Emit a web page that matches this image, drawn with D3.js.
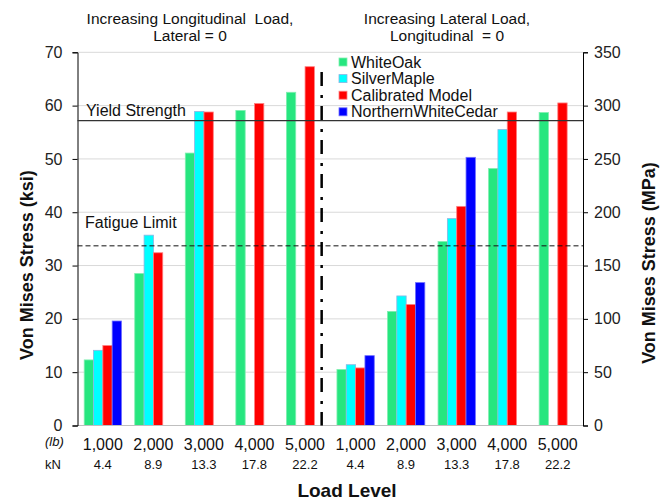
<!DOCTYPE html>
<html lang="en">
<head>
<meta charset="UTF-8">
<title>Von Mises Stress by Load Level</title>
<script src="https://d3js.org/d3.v7.min.js"></script>
<style>
    body { margin: 0; background: #fff; }
    svg { font-family: "Liberation Sans", Arial, sans-serif; }
</style>
</head>
<body>
<svg id="chart" width="661" height="503"></svg>
<script>
    // Data
    const lbLabels = ["1,000", "2,000", "3,000", "4,000", "5,000", "1,000", "2,000", "3,000", "4,000", "5,000"];
    const kNLabels = ["4.4", "8.9", "13.3", "17.8", "22.2", "4.4", "8.9", "13.3", "17.8", "22.2"];
    const seriesNames = ["WhiteOak", "SilverMaple", "Calibrated Model", "NorthernWhiteCedar"];
    const whiteOak = [12.3, 28.5, 51.1, 59.1, 62.5, 10.5, 21.4, 34.5, 48.2, 58.7];
    const silverMaple = [14.1, 35.7, 58.9, null, null, 11.4, 24.3, 38.8, 55.5, null];
    const calibrated = [15.0, 32.4, 58.8, 60.4, 67.3, 10.8, 22.7, 41.1, 58.8, 60.5];
    const cedar = [19.6, null, null, null, null, 13.1, 26.8, 50.3, null, null];
    const ksiTicks = [0, 10, 20, 30, 40, 50, 60, 70];
    const mpaTicks = [0, 50, 100, 150, 200, 250, 300, 350];
    const yieldStrength = 57.2;
    const fatigueLimit = 33.7;

    const colors = ["#26E67F", "#00FFFF", "#FF0000", "#0000FF"];
    const strokes = ["#7FEFB0", "#8DB3E2", "#FF8080", "#6F6FFF"];

    const svg = d3.select("#chart");
    const plotLeft = 77.5, plotRight = 583, plotTop = 52.3, plotBottom = 425.5;
    const cats = d3.range(lbLabels.length);

    const x0 = d3.scaleBand().domain(cats).range([plotLeft, plotRight]);
    const x1 = d3.scaleBand().domain(d3.range(seriesNames.length)).range([6.7, 6.7 + 4 * 9.33]);
    const y = d3.scaleLinear().domain([0, 70]).range([plotBottom, plotTop]);
    const y2 = d3.scaleLinear().domain([0, 350]).range([plotBottom, plotTop]);

    // grid
    svg.append("g").selectAll("line").data(ksiTicks.slice(1)).join("line")
        .attr("x1", plotLeft).attr("x2", plotRight)
        .attr("y1", d => y(d)).attr("y2", d => y(d))
        .attr("stroke", "#D9D9D9").attr("stroke-width", 1);

    // bars
    const allSeries = [whiteOak, silverMaple, calibrated, cedar];
    const rows = [];
    cats.forEach(c => allSeries.forEach((s, i) => {
        if (s[c] != null) rows.push({ c: c, i: i, v: s[c] });
    }));
    svg.append("g").selectAll("rect").data(rows).join("rect")
        .attr("x", d => x0(d.c) + x1(d.i))
        .attr("width", x1.bandwidth())
        .attr("y", d => y(d.v))
        .attr("height", d => y(0) - y(d.v))
        .attr("fill", d => colors[d.i])
        .attr("stroke", d => strokes[d.i])
        .attr("stroke-width", 0.8);

    // bottom axis line
    svg.append("line").attr("x1", plotLeft).attr("x2", plotRight)
        .attr("y1", plotBottom).attr("y2", plotBottom)
        .attr("stroke", "#BFBFBF").attr("stroke-width", 1);

    // left axis
    const yAxis = svg.append("g").attr("transform", `translate(${plotLeft},0)`)
        .call(d3.axisLeft(y).tickValues(ksiTicks).tickSize(5).tickPadding(10));
    yAxis.select(".domain").attr("stroke", "#000");
    yAxis.selectAll("text").attr("font-size", 16).attr("fill", "#222")
        .attr("font-family", "Liberation Sans, Arial, sans-serif");

    // right axis
    const y2Axis = svg.append("g").attr("transform", `translate(${plotRight},0)`)
        .call(d3.axisRight(y2).tickValues(mpaTicks).tickSize(5).tickPadding(6));
    y2Axis.selectAll("text").attr("font-size", 16).attr("fill", "#222")
        .attr("font-family", "Liberation Sans, Arial, sans-serif");

    // reference lines
    svg.append("line").attr("x1", plotLeft).attr("x2", plotRight)
        .attr("y1", y(yieldStrength)).attr("y2", y(yieldStrength))
        .attr("stroke", "#333").attr("stroke-width", 1.2);
    svg.append("line").attr("x1", plotLeft).attr("x2", plotRight)
        .attr("y1", y(fatigueLimit)).attr("y2", y(fatigueLimit))
        .attr("stroke", "#111").attr("stroke-width", 1).attr("stroke-dasharray", "5,3");
    svg.append("text").attr("x", 86).attr("y", y(yieldStrength) - 5)
        .attr("font-size", 16).attr("fill", "#111").text("Yield Strength");
    svg.append("text").attr("x", 85).attr("y", y(fatigueLimit) - 18)
        .attr("font-size", 16).attr("fill", "#111").text("Fatigue Limit");

    // divider between the two load cases
    const divX = x0(4) + x0.bandwidth() * 0.83;
    svg.append("line").attr("x1", divX).attr("x2", divX)
        .attr("y1", 72).attr("y2", plotBottom)
        .attr("stroke", "#000").attr("stroke-width", 2.5)
        .attr("stroke-dasharray", "14,9,3,8");

    // titles above each half
    const titles = [
        { x: 190, lines: ["Increasing Longitudinal  Load,", "Lateral = 0"] },
        { x: 447, lines: ["Increasing Lateral Load,", "Longitudinal  = 0"] }
    ];
    titles.forEach(t => {
        t.lines.forEach((line, k) => {
            svg.append("text").attr("x", t.x).attr("y", 24 + k * 17)
                .attr("text-anchor", "middle").attr("font-size", 15.5)
                .attr("fill", "#111").attr("xml:space", "preserve").text(line);
        });
    });

    // legend
    const legend = svg.append("g").attr("transform", "translate(339,62)");
    seriesNames.forEach((name, i) => {
        const g = legend.append("g").attr("transform", `translate(0,${i * 16.6})`);
        g.append("rect").attr("x", 0).attr("y", -4).attr("width", 8).attr("height", 8)
            .attr("fill", colors[i]).attr("stroke", strokes[i]).attr("stroke-width", 0.8);
        g.append("text").attr("x", 12).attr("y", 5.5).attr("font-size", 16)
            .attr("fill", "#111").text(name);
    });

    // x labels
    svg.append("g").selectAll("text").data(cats).join("text")
        .attr("x", c => x0(c) + x0.bandwidth() / 2)
        .attr("y", 450).attr("text-anchor", "middle").attr("font-size", 16)
        .attr("fill", "#111").text(c => lbLabels[c]);
    svg.append("g").selectAll("text").data(cats).join("text")
        .attr("x", c => x0(c) + x0.bandwidth() / 2)
        .attr("y", 469).attr("text-anchor", "middle").attr("font-size", 13)
        .attr("fill", "#111").text(c => kNLabels[c]);
    svg.append("text").attr("x", 45).attr("y", 446).attr("font-size", 13)
        .attr("font-style", "italic").attr("fill", "#111").text("(lb)");
    svg.append("text").attr("x", 45).attr("y", 469).attr("font-size", 13)
        .attr("fill", "#111").text("kN");

    // axis titles
    svg.append("text").attr("x", 347).attr("y", 497).attr("text-anchor", "middle")
        .attr("font-size", 19).attr("font-weight", "bold").attr("fill", "#111").text("Load Level");
    svg.append("text").attr("transform", "translate(33,265) rotate(-90)")
        .attr("text-anchor", "middle").attr("font-size", 18).attr("font-weight", "bold")
        .attr("fill", "#111").text("Von Mises Stress (ksi)");
    svg.append("text").attr("transform", "translate(655,263) rotate(-90)")
        .attr("text-anchor", "middle").attr("font-size", 18).attr("font-weight", "bold")
        .attr("fill", "#111").text("Von Mises Stress (MPa)");
</script>
</body>
</html>
